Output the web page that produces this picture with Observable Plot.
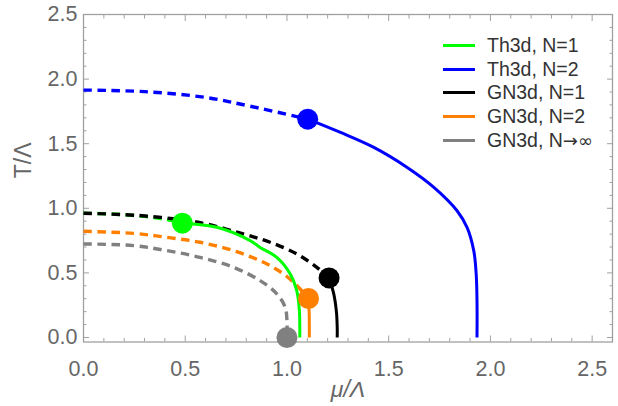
<!DOCTYPE html>
<html>
<head>
<meta charset="utf-8">
<script src="https://cdn.jsdelivr.net/npm/d3@7"></script>
<script src="https://cdn.jsdelivr.net/npm/@observablehq/plot@0.6"></script>
<style>
  body { margin: 0; background: #fff; }
  #wrap { position: relative; width: 618px; height: 406px; overflow: hidden; font-family: "Liberation Sans", Arial, sans-serif; }
  #legend { position: absolute; left: 443px; top: 34px; }
  .row { display: flex; align-items: center; height: 23.6px; }
  .sw { width: 32px; height: 3px; margin-right: 12px; }
  .lbl { font-size: 19.5px; color: #333; white-space: nowrap; }
  .sym { font-family: "DejaVu Sans", sans-serif; font-size: 18px; }
</style>
</head>
<body>
<div id="wrap"></div>
<script>
// Series names (legend order)
const seriesNames = ["Th3d, N=1", "Th3d, N=2", "GN3d, N=1", "GN3d, N=2", "GN3d, N→∞"];
const seriesColors = ["#00ff00", "#0000ff", "#000000", "#ff8000", "#808080"];

// [mu/Λ, T/Λ]
const th1Dashed = [[0, 0.962], [0.15, 0.955], [0.3, 0.937], [0.4, 0.915], [0.486, 0.885]];
const th1Solid  = [[0.486, 0.885], [0.655, 0.853], [0.819, 0.75], [0.87, 0.695], [0.95, 0.62], [1.016, 0.492], [1.048, 0.363], [1.061, 0.209], [1.063, 0.08], [1.063, 0]];
const th2Dashed = [[0, 1.915], [0.3, 1.903], [0.6, 1.858], [0.82, 1.79], [1.102, 1.69]];
const th2Solid  = [[1.102, 1.69], [1.263, 1.587], [1.427, 1.471], [1.591, 1.316], [1.722, 1.162], [1.836, 0.981], [1.885, 0.852], [1.918, 0.672], [1.93, 0.492], [1.934, 0.286], [1.934, 0]];
const gn1Dashed = [[0, 0.962], [0.197, 0.951], [0.344, 0.935], [0.486, 0.91], [0.606, 0.878], [0.786, 0.801], [0.917, 0.737], [1.048, 0.647], [1.147, 0.543], [1.207, 0.461]];
const gn1Solid  = [[1.207, 0.461], [1.23, 0.338], [1.243, 0.2], [1.247, 0.08], [1.247, 0]];
const gn2Dashed = [[0, 0.822], [0.246, 0.806], [0.41, 0.775], [0.573, 0.737], [0.737, 0.672], [0.885, 0.582], [0.983, 0.492], [1.048, 0.402], [1.106, 0.302]];
const gn2Solid  = [[1.106, 0.302], [1.109, 0.2], [1.11, 0.08], [1.11, 0]];
const gnInfDashed = [[0, 0.724], [0.246, 0.711], [0.41, 0.672], [0.573, 0.62], [0.737, 0.543], [0.868, 0.44], [0.95, 0.338], [0.991, 0.234], [1.0, 0.131], [1.0, 0]];
const gnInfSolid = [];

// Critical points (dots)
const dotMu = [0.486, 1.102, 1.207, 1.106, 1.0];
const dotT  = [0.885, 1.69, 0.461, 0.302, 0.0];

// Tick values
const xMajor = [0, 0.5, 1.0, 1.5, 2.0, 2.5];
const yMajor = [0, 0.5, 1.0, 1.5, 2.0, 2.5];
const xMinor = d3.range(0, 27).map(i => i / 10).filter(v => Math.round(v * 10) % 5 !== 0);
const yMinor = d3.range(0, 26).map(i => i / 10).filter(v => Math.round(v * 10) % 5 !== 0);

const dashedSets = [th1Dashed, th2Dashed, gn1Dashed, gn2Dashed, gnInfDashed];
const solidSets = [th1Solid, th2Solid, gn1Solid, gn2Solid, gnInfSolid];
const toRows = (sets) => sets.flatMap((pts, i) => pts.map(([mu, T]) => ({series: seriesNames[i], mu, T})));
const dashedRows = toRows(dashedSets);
const solidRows = toRows(solidSets);
const dotRows = seriesNames.map((s, i) => ({series: s, mu: dotMu[i], T: dotT[i]}));

const frameColor = "#a0a0a0";
const tickText = "#666";
const fmt = d3.format(".1f");

const tickAxes = [];
for (const [ticks, size] of [[xMajor, 6], [xMinor, 3.5]]) {
  tickAxes.push(Plot.axisX({anchor: "bottom", ticks, tickSize: size, dy: -size, tickFormat: () => "", label: null, stroke: frameColor}));
  tickAxes.push(Plot.axisX({anchor: "top", ticks, tickSize: size, dy: size, tickFormat: () => "", label: null, stroke: frameColor}));
}
for (const [ticks, size] of [[yMajor, 6], [yMinor, 3.5]]) {
  tickAxes.push(Plot.axisY({anchor: "left", ticks, tickSize: size, dx: size, tickFormat: () => "", label: null, stroke: frameColor}));
  tickAxes.push(Plot.axisY({anchor: "right", ticks, tickSize: size, dx: -size, tickFormat: () => "", label: null, stroke: frameColor}));
}

const chart = Plot.plot({
  width: 618,
  height: 406,
  marginLeft: 83,
  marginRight: 6,
  marginTop: 14,
  marginBottom: 64.5,
  style: {fontFamily: "'Liberation Sans', Arial, sans-serif", background: "#fff"},
  x: {domain: [0, 2.6]},
  y: {domain: [-0.035, 2.5]},
  color: {domain: seriesNames, range: seriesColors},
  marks: [
    Plot.frame({stroke: frameColor, strokeWidth: 1.3}),
    ...tickAxes,
    Plot.axisX({anchor: "bottom", ticks: xMajor, tickSize: 0, tickPadding: 19, tickFormat: fmt, fontSize: 21.5, fill: tickText, label: null}),
    Plot.axisY({anchor: "left", ticks: yMajor, tickSize: 0, tickPadding: 6, tickFormat: fmt, fontSize: 21.5, fill: tickText, label: null}),
    Plot.text(["T/Λ"], {frameAnchor: "left", dx: -60, rotate: -90, fontSize: 23, fill: tickText, text: d => d}),
    Plot.text(["μ/Λ"], {frameAnchor: "bottom", dy: 55, lineAnchor: "bottom", fontSize: 23, fontStyle: "italic", fill: tickText, text: d => d}),
    Plot.line(dashedRows, {x: "mu", y: "T", z: "series", stroke: "series", strokeWidth: 3.4, strokeDasharray: "8.5,5.5", strokeLinecap: "butt", curve: "catmull-rom"}),
    Plot.line(solidRows, {x: "mu", y: "T", z: "series", stroke: "series", strokeWidth: 3, strokeLinecap: "butt", curve: "catmull-rom"}),
    Plot.dot(dotRows, {x: "mu", y: "T", fill: "series", r: 10.5})
  ]
});

const wrap = document.getElementById("wrap");
wrap.appendChild(chart);

const legend = document.createElement("div");
legend.id = "legend";
seriesNames.forEach((name, i) => {
  const row = document.createElement("div");
  row.className = "row";
  const sw = document.createElement("div");
  sw.className = "sw";
  sw.style.background = seriesColors[i];
  const lb = document.createElement("div");
  lb.className = "lbl";
  const k = name.indexOf("→");
  if (k >= 0) {
    lb.appendChild(document.createTextNode(name.slice(0, k)));
    const s = document.createElement("span");
    s.className = "sym";
    s.textContent = name.slice(k);
    lb.appendChild(s);
  } else {
    lb.textContent = name;
  }
  row.appendChild(sw);
  row.appendChild(lb);
  legend.appendChild(row);
});
wrap.appendChild(legend);
</script>
</body>
</html>
